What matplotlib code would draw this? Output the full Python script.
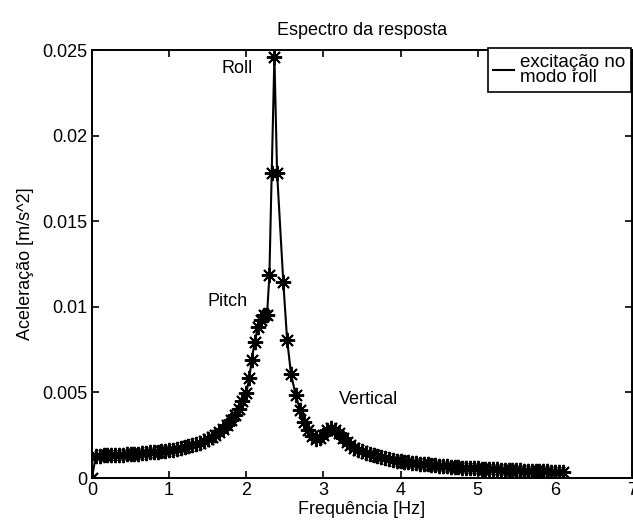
import numpy as np
import matplotlib
matplotlib.use("Agg")
import matplotlib.pyplot as plt

# frequências [Hz] e amplitudes [m/s^2]
freq = [0.00,
        0.05, 0.10, 0.15, 0.20, 0.25, 0.30, 0.35, 0.40, 0.45, 0.50,
        0.55, 0.60, 0.65, 0.70, 0.75, 0.80, 0.85, 0.90, 0.95, 1.00,
        1.05, 1.10, 1.15, 1.20, 1.25, 1.30, 1.35, 1.40, 1.45, 1.50,
        1.55, 1.60, 1.65, 1.70, 1.75, 1.80, 1.85, 1.90, 1.95, 2.00,
        2.04, 2.07, 2.11, 2.15, 2.19, 2.23, 2.27, 2.30, 2.33, 2.365,
        2.40, 2.48, 2.53, 2.58, 2.64, 2.70, 2.75, 2.80, 2.85, 2.90,
        2.95, 3.00, 3.05, 3.10, 3.15, 3.20, 3.25, 3.30, 3.35, 3.40,
        3.45, 3.50, 3.55, 3.60, 3.65, 3.70, 3.75, 3.80, 3.85, 3.90,
        3.95, 4.00, 4.05, 4.10, 4.15, 4.20, 4.25, 4.30, 4.35, 4.40,
        4.45, 4.50, 4.55, 4.60, 4.65, 4.70, 4.75, 4.80, 4.85, 4.90,
        4.95, 5.00, 5.05, 5.10, 5.15, 5.20, 5.25, 5.30, 5.35, 5.40,
        5.45, 5.50, 5.55, 5.60, 5.65, 5.70, 5.75, 5.80, 5.85, 5.90,
        5.95, 6.00, 6.05, 6.10]

acel = [0.0,
        0.00130, 0.00131, 0.00132, 0.00133, 0.00134, 0.00135, 0.00136, 0.00137, 0.00138, 0.00140,
        0.00141, 0.00143, 0.00145, 0.00147, 0.00149, 0.00151, 0.00153, 0.00156, 0.00159, 0.00162,
        0.00166, 0.00170, 0.00174, 0.00179, 0.00185, 0.00191, 0.00198, 0.00206, 0.00215, 0.00226,
        0.00238, 0.00252, 0.00268, 0.00287, 0.00310, 0.00336, 0.00368, 0.00405, 0.00448, 0.00496,
        0.00584, 0.00690, 0.00796, 0.00880, 0.00925, 0.00950, 0.00955, 0.01183, 0.01782, 0.02461,
        0.01782, 0.01146, 0.00806, 0.00610, 0.00485, 0.00395, 0.00330, 0.00280, 0.00245, 0.00228,
        0.00232, 0.00250, 0.00278, 0.00292, 0.00282, 0.00262, 0.00233, 0.00210, 0.00192, 0.00178,
        0.00166, 0.00156, 0.00147, 0.00139, 0.00132, 0.00126, 0.00120, 0.00115, 0.00110, 0.00106,
        0.00102, 0.00098, 0.00095, 0.00092, 0.00089, 0.00086, 0.00083, 0.00081, 0.00079, 0.00076,
        0.00074, 0.00072, 0.00070, 0.00068, 0.00066, 0.00065, 0.00063, 0.00061, 0.00060, 0.00058,
        0.00057, 0.00056, 0.00054, 0.00053, 0.00052, 0.00051, 0.00050, 0.00049, 0.00048, 0.00047,
        0.00046, 0.00045, 0.00044, 0.00043, 0.00042, 0.00041, 0.00040, 0.00040, 0.00039, 0.00038,
        0.00037, 0.00037, 0.00036, 0.00035]

xticks = [0, 1, 2, 3, 4, 5, 6, 7]
yticks = [0, 0.005, 0.01, 0.015, 0.02, 0.025]
ytick_labels = ['0', '0.005', '0.01', '0.015', '0.02', '0.025']

plt.rcParams['font.family'] = ['Liberation Sans', 'DejaVu Sans']
plt.rcParams['font.size'] = 13

fig = plt.figure(figsize=(6.33, 5.29), dpi=100)
ax = fig.add_axes([0.1453, 0.0964, 0.853, 0.809])

# linha (legenda) + asteriscos separados, como no MATLAB
ax.plot(freq, acel, '-', color='black', lw=1.5, label='excitação no\nmodo roll')
ax.plot(freq, acel, linestyle='none', marker=(8, 2, 0), color='black', ms=11, mew=1.4)

ax.set_xlim(0, 7)
ax.set_ylim(0, 0.025)
ax.set_xticks(xticks)
ax.set_yticks(yticks)
ax.set_yticklabels(ytick_labels)
ax.tick_params(direction='in', length=5, width=1.2, top=True, right=True, pad=3)
for s in ax.spines.values():
    s.set_linewidth(1.4)

ax.set_title('Espectro da resposta', fontsize=13, pad=11)
ax.set_xlabel('Frequência [Hz]', labelpad=1)
ax.set_ylabel('Aceleração [m/s^2]', labelpad=6)

ax.text(1.876, 0.02395, 'Roll', ha='center', va='center')
ax.text(1.76, 0.0103, 'Pitch', ha='center', va='center')
ax.text(3.58, 0.00456, 'Vertical', ha='center', va='center')

leg = ax.legend(loc='upper left', bbox_to_anchor=(0.733, 1.005), frameon=True,
                fancybox=False, edgecolor='black', framealpha=1, fontsize=13.5,
                handlelength=1.1, handletextpad=0.3, borderpad=0.3,
                labelspacing=0.1, borderaxespad=0)
leg.get_frame().set_linewidth(1.2)
for t in leg.get_texts():
    t.set_linespacing(0.9)

fig.savefig('out.png', dpi=100)
